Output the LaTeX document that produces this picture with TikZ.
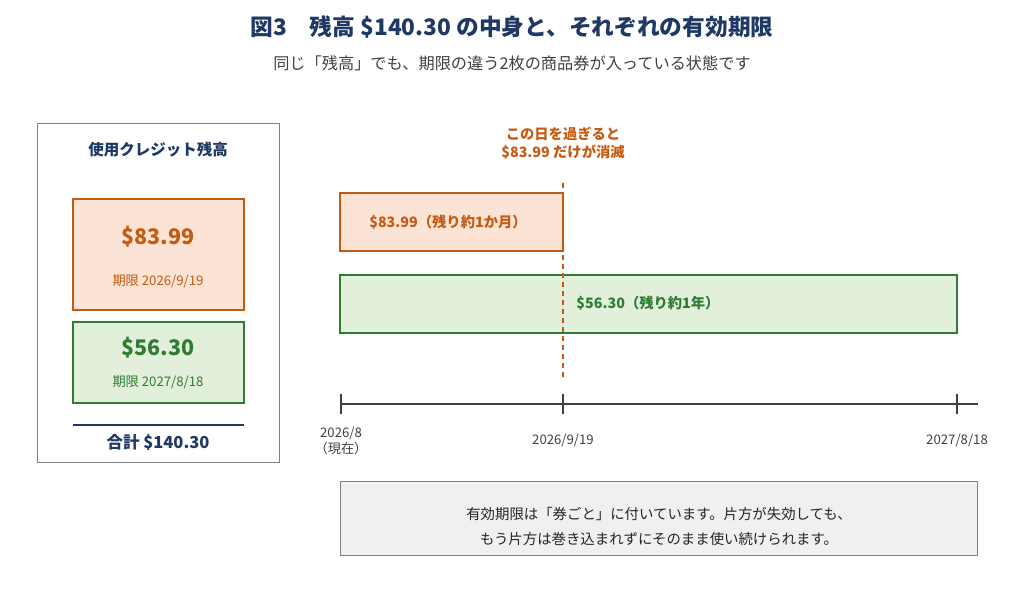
\documentclass[tikz,border=0pt]{standalone}
\usepackage{fontspec}
\setmainfont{Noto Sans CJK JP}
\definecolor{navy}{HTML}{1F3864}
\definecolor{org}{HTML}{C55A11}
\definecolor{orgf}{HTML}{FBE3D6}
\definecolor{grn}{HTML}{2E7D32}
\definecolor{grnf}{HTML}{E2EFDA}
\definecolor{gtxt}{HTML}{404040}
\begin{document}
\begin{tikzpicture}[x=1pt,y=-1pt,
  obox/.style={draw=org,fill=orgf,line width=1.2pt},
  gbox/.style={draw=grn,fill=grnf,line width=1.2pt},
  t/.style={inner sep=0pt,align=center}]
\useasboundingbox (0,0) rectangle (1024,598);
\node[t,text=navy,font=\bfseries\fontsize{22.7}{27}\selectfont] (title) at (512,27) {図3　残高 \$140.30 の中身と、それぞれの有効期限};
\node[t,text=gtxt,font=\fontsize{16.2}{19}\selectfont] (sub) at (512,63) {同じ「残高」でも、期限の違う2枚の商品券が入っている状態です};
% left panel
\draw[draw=gray,fill=white,line width=1pt] (37,123) rectangle (279,462);
\node[t,text=navy,font=\bfseries\fontsize{15.5}{18}\selectfont] (lt) at (158,150) {使用クレジット残高};
\draw[obox] (73,199) rectangle (244,310);
\node[t,text=org,font=\bfseries\fontsize{21.5}{25}\selectfont] (a1) at (158,237) {\$83.99};
\node[t,text=org,font=\fontsize{13.2}{15}\selectfont] (a2) at (158,281) {期限 2026/9/19};
\draw[gbox] (73,322) rectangle (244,403);
\node[t,text=grn,font=\bfseries\fontsize{21.5}{25}\selectfont] (b1) at (158,348) {\$56.30};
\node[t,text=grn,font=\fontsize{13.2}{15}\selectfont] (b2) at (158,382) {期限 2027/8/18};
\draw[navy,line width=1.5pt] (73,425) -- (244,425);
\node[t,text=navy,font=\bfseries\fontsize{16.5}{19}\selectfont] (sum) at (158,442) {合計 \$140.30};
% timeline
\node[t,text=org,font=\bfseries\fontsize{14.3}{18}\selectfont] (warn) at (563,143) {この日を過ぎると\\\$83.99 だけが消滅};
\draw[obox] (340,193) rectangle (563,251);
\node[t,text=org,font=\bfseries\fontsize{14.3}{17}\selectfont] (bar1) at (448,222) {\$83.99（残り約1か月）};
\draw[gbox] (340,275) rectangle (957,333);
\node[t,text=grn,font=\bfseries\fontsize{14.3}{17}\selectfont] (bar2) at (648,303) {\$56.30（残り約1年）};
\coordinate (d1) at (563,183); \coordinate (d2) at (563,380);
\draw[org,line width=1.3pt,dash pattern=on 5pt off 4pt] (d1) -- (d2);
\coordinate (ax1) at (340,404); \coordinate (ax2) at (978,404);
\draw[gtxt,line width=1.8pt] (ax1) -- (ax2);
\foreach \x in {341,563,957} \draw[gtxt,line width=1.8pt] (\x,394) -- (\x,414);
\node[t,text=gtxt,font=\fontsize{13.2}{16}\selectfont] (l1) at (341,441) {2026/8\\（現在）};
\node[t,text=gtxt,font=\fontsize{13.2}{16}\selectfont] (l2) at (563,440) {2026/9/19};
\node[t,text=gtxt,font=\fontsize{13.2}{16}\selectfont] (l3) at (957,440) {2027/8/18};
\draw[draw=gray,fill=black!6,line width=1pt] (340,481) rectangle (977,555);
\node[t,text=black!85,font=\fontsize{14.4}{25}\selectfont] (note) at (659,527) {有効期限は「券ごと」に付いています。片方が失効しても、\\もう片方は巻き込まれずにそのまま使い続けられます。};
\end{tikzpicture}
\end{document}
